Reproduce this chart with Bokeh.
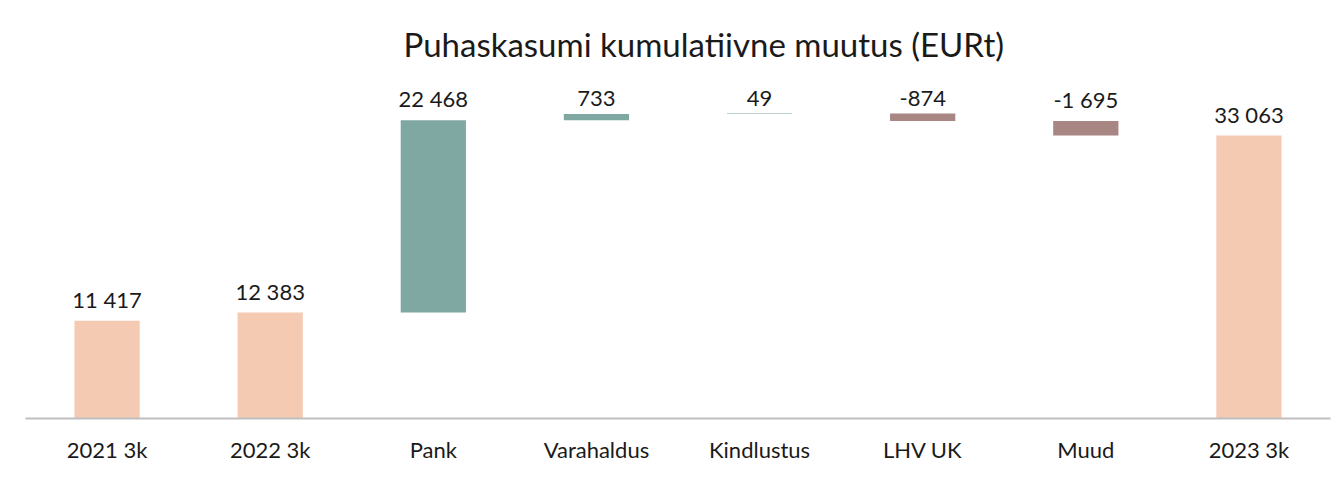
from bokeh.plotting import figure
from bokeh.models import ColumnDataSource, FactorRange, Range1d
from bokeh.core.properties import value
from bokeh.embed import file_html
from bokeh.resources import INLINE

title_text = "Puhaskasumi kumulatiivne muutus (EURt)"
categories = ["2021 3k", "2022 3k", "Pank", "Varahaldus", "Kindlustus", "LHV UK", "Muud", "2023 3k"]
values = [11417, 12383, 22468, 733, 49, -874, -1695, 33063]
kinds = ["total", "total", "delta", "delta", "delta", "delta", "delta", "total"]

colors_map = {"total": "#F4CAB3", "up": "#7FA8A2", "down": "#A78683"}

bottoms, tops, colors, labels = [], [], [], []
running = 0
for v, k in zip(values, kinds):
    if k == "total":
        b, t = 0, v
        running = v
        c = colors_map["total"]
    else:
        b, t = min(running, running + v), max(running, running + v)
        running += v
        c = colors_map["up"] if v >= 0 else colors_map["down"]
    bottoms.append(b)
    tops.append(t)
    colors.append(c)
    labels.append(f"{v:,}".replace(",", " "))

src = ColumnDataSource(dict(cat=categories, bottom=bottoms, top=tops, color=colors, label=labels))

FONT = "Lato"
p = figure(x_range=FactorRange(*categories, range_padding=0), y_range=Range1d(0, 40660),
           width=1334, height=480, output_backend="svg", toolbar_location=None,
           min_border_left=25, min_border_right=4, min_border_top=70, min_border_bottom=62)

p.vbar(x="cat", top="top", bottom="bottom", width=0.4, color="color", source=src, line_width=0)
p.text(x="cat", y="top", text="label", source=src, text_align="center", text_baseline="bottom",
       y_offset=-8, text_font=value(FONT), text_font_size="22px", text_color="#1a1a1a")

p.title.text = title_text
p.title.align = "left"
p.title.offset = 378
p.title.standoff = 14
p.title.text_font = FONT
p.title.text_font_size = "33px"
p.title.text_font_style = "normal"
p.title.text_color = "#1a1a1a"

p.yaxis.visible = False
p.xgrid.grid_line_color = None
p.ygrid.grid_line_color = None
p.outline_line_color = None
p.xaxis.axis_line_color = "#BFBFBF"
p.xaxis.axis_line_width = 2
p.xaxis.major_tick_line_color = None
p.xaxis.minor_tick_line_color = None
p.xaxis.major_label_standoff = 11
p.xaxis.major_label_text_font = FONT
p.xaxis.major_label_text_font_size = "22px"
p.xaxis.major_label_text_color = "#1a1a1a"

open("out.html", "w").write(file_html(p, INLINE))
